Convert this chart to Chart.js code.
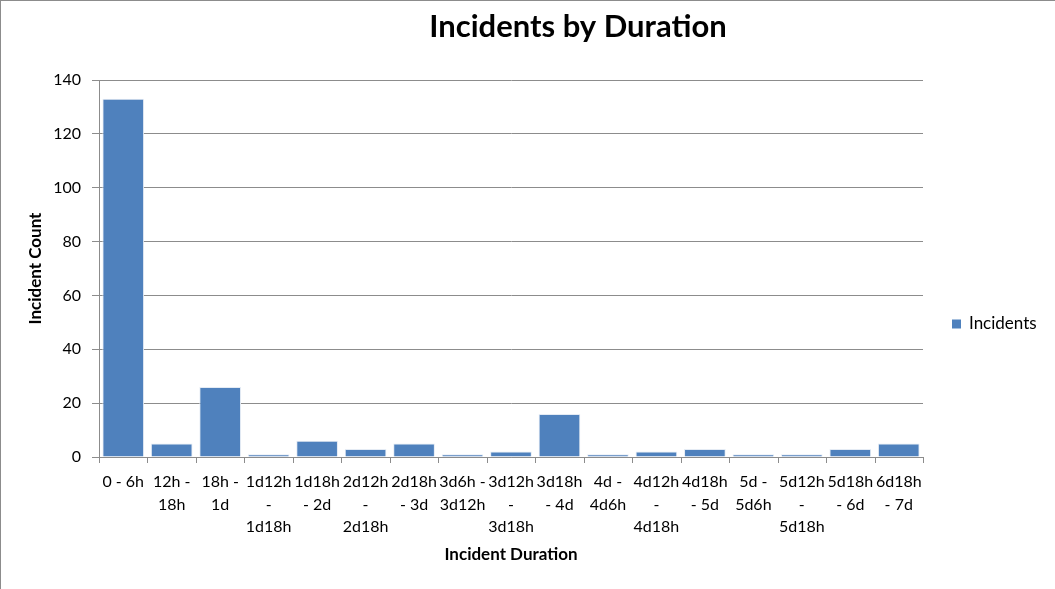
<!DOCTYPE html>
<html>
<head>
<meta charset="utf-8">
<script src="https://cdn.jsdelivr.net/npm/chart.js@4"></script>
<style>
  html, body { margin: 0; padding: 0; background: #fff; }
  #wrap { position: relative; width: 1055px; height: 589px; box-sizing: border-box; border-left: 1px solid #8c8c8c; border-top: 1px solid #8c8c8c; }
  canvas { display: block; }
</style>
</head>
<body>
<div id="wrap"><canvas id="chart" width="1054" height="588"></canvas></div>
<script>
// Duration buckets (wrapped like the original axis labels)
const durationLabels = [
    ['0 - 6h'], ['12h -', '18h'], ['18h -', '1d'], ['1d12h', '-', '1d18h'],
    ['1d18h', '- 2d'], ['2d12h', '-', '2d18h'], ['2d18h', '- 3d'], ['3d6h -', '3d12h'],
    ['3d12h', '-', '3d18h'], ['3d18h', '- 4d'], ['4d -', '4d6h'], ['4d12h', '-', '4d18h'],
    ['4d18h', '- 5d'], ['5d -', '5d6h'], ['5d12h', '-', '5d18h'], ['5d18h', '- 6d'], ['6d18h', '- 7d']
];
const incidentCounts = [133, 5, 26, 1, 6, 3, 5, 1, 2, 16, 1, 2, 3, 1, 1, 3, 5];
const yTicks = [0, 20, 40, 60, 80, 100, 120, 140];
const chartTitle = 'Incidents by Duration';

const FONT = 'Lato, "Open Sans", sans-serif';
const GRID = '#8c8c8c';

const ctx = document.getElementById('chart').getContext('2d');
new Chart(ctx, {
    type: 'bar',
    data: {
        labels: durationLabels,
        datasets: [{
            label: 'Incidents',
            data: incidentCounts,
            backgroundColor: '#4f81bd',
            borderColor: '#e4ebf4',
            borderWidth: 1,
            categoryPercentage: 1.0,
            barPercentage: 0.86
        }]
    },
    options: {
        responsive: false,
        animation: false,
        maintainAspectRatio: false,
        // top space holds the title, right space holds the legend
        layout: { padding: { top: 79, left: 0, right: 132, bottom: 0 } },
        scales: {
            x: {
                afterFit: axis => { axis.height = 132; },
                grid: { display: false, drawTicks: false, color: GRID, offset: true },
                border: { color: GRID },
                ticks: { color: '#000', font: { family: FONT, size: 16, lineHeight: 1.4 }, maxRotation: 0, minRotation: 0, autoSkip: false, padding: 14 },
                title: { display: true, text: 'Incident Duration', color: '#000', font: { family: FONT, size: 17, weight: 'bold' }, padding: { top: 24, bottom: 24 } }
            },
            y: {
                min: 0,
                max: 140,
                afterFit: axis => { axis.width = 98; },
                afterBuildTicks: axis => { axis.ticks = yTicks.map(v => ({ value: v })); },
                grid: { color: GRID, lineWidth: 1, tickLength: 7 },
                border: { color: GRID },
                ticks: { color: '#000', font: { family: FONT, size: 16 }, padding: 11 },
                title: { display: true, text: 'Incident Count', color: '#000', font: { family: FONT, size: 17, weight: 'bold' }, padding: { top: 24, bottom: 24 } }
            }
        },
        plugins: {
            title: { display: false },
            legend: { display: false },
            tooltip: { enabled: false }
        }
    },
    plugins: [{
        id: 'excelExtras',
        afterDraw(chart) {
            const x = chart.scales.x, c = chart.ctx;
            const n = chart.data.labels.length;
            const step = (x.right - x.left) / n;
            c.save();
            // category boundary tick marks under the x axis
            c.strokeStyle = GRID;
            c.lineWidth = 1;
            c.beginPath();
            for (let i = 0; i <= n; i++) {
                const px = Math.round(x.left + i * step) + 0.5;
                c.moveTo(px, x.top);
                c.lineTo(px, x.top + 6);
            }
            c.stroke();
            // title, placed like Excel does (off-centre to the right)
            c.fillStyle = '#000';
            c.font = 'bold 31px ' + FONT;
            c.textAlign = 'center';
            c.textBaseline = 'middle';
            c.fillText(chartTitle, 577, 26);
            // legend on the right
            const ds = chart.data.datasets[0];
            const lx = chart.chartArea.right + 29, ly = 323;
            c.fillStyle = ds.backgroundColor;
            c.fillRect(lx, ly - 4.5, 9, 9);
            c.fillStyle = '#000';
            c.font = '17px ' + FONT;
            c.textAlign = 'left';
            c.fillText(ds.label, lx + 17, ly);
            c.restore();
        }
    }]
});
</script>
</body>
</html>
